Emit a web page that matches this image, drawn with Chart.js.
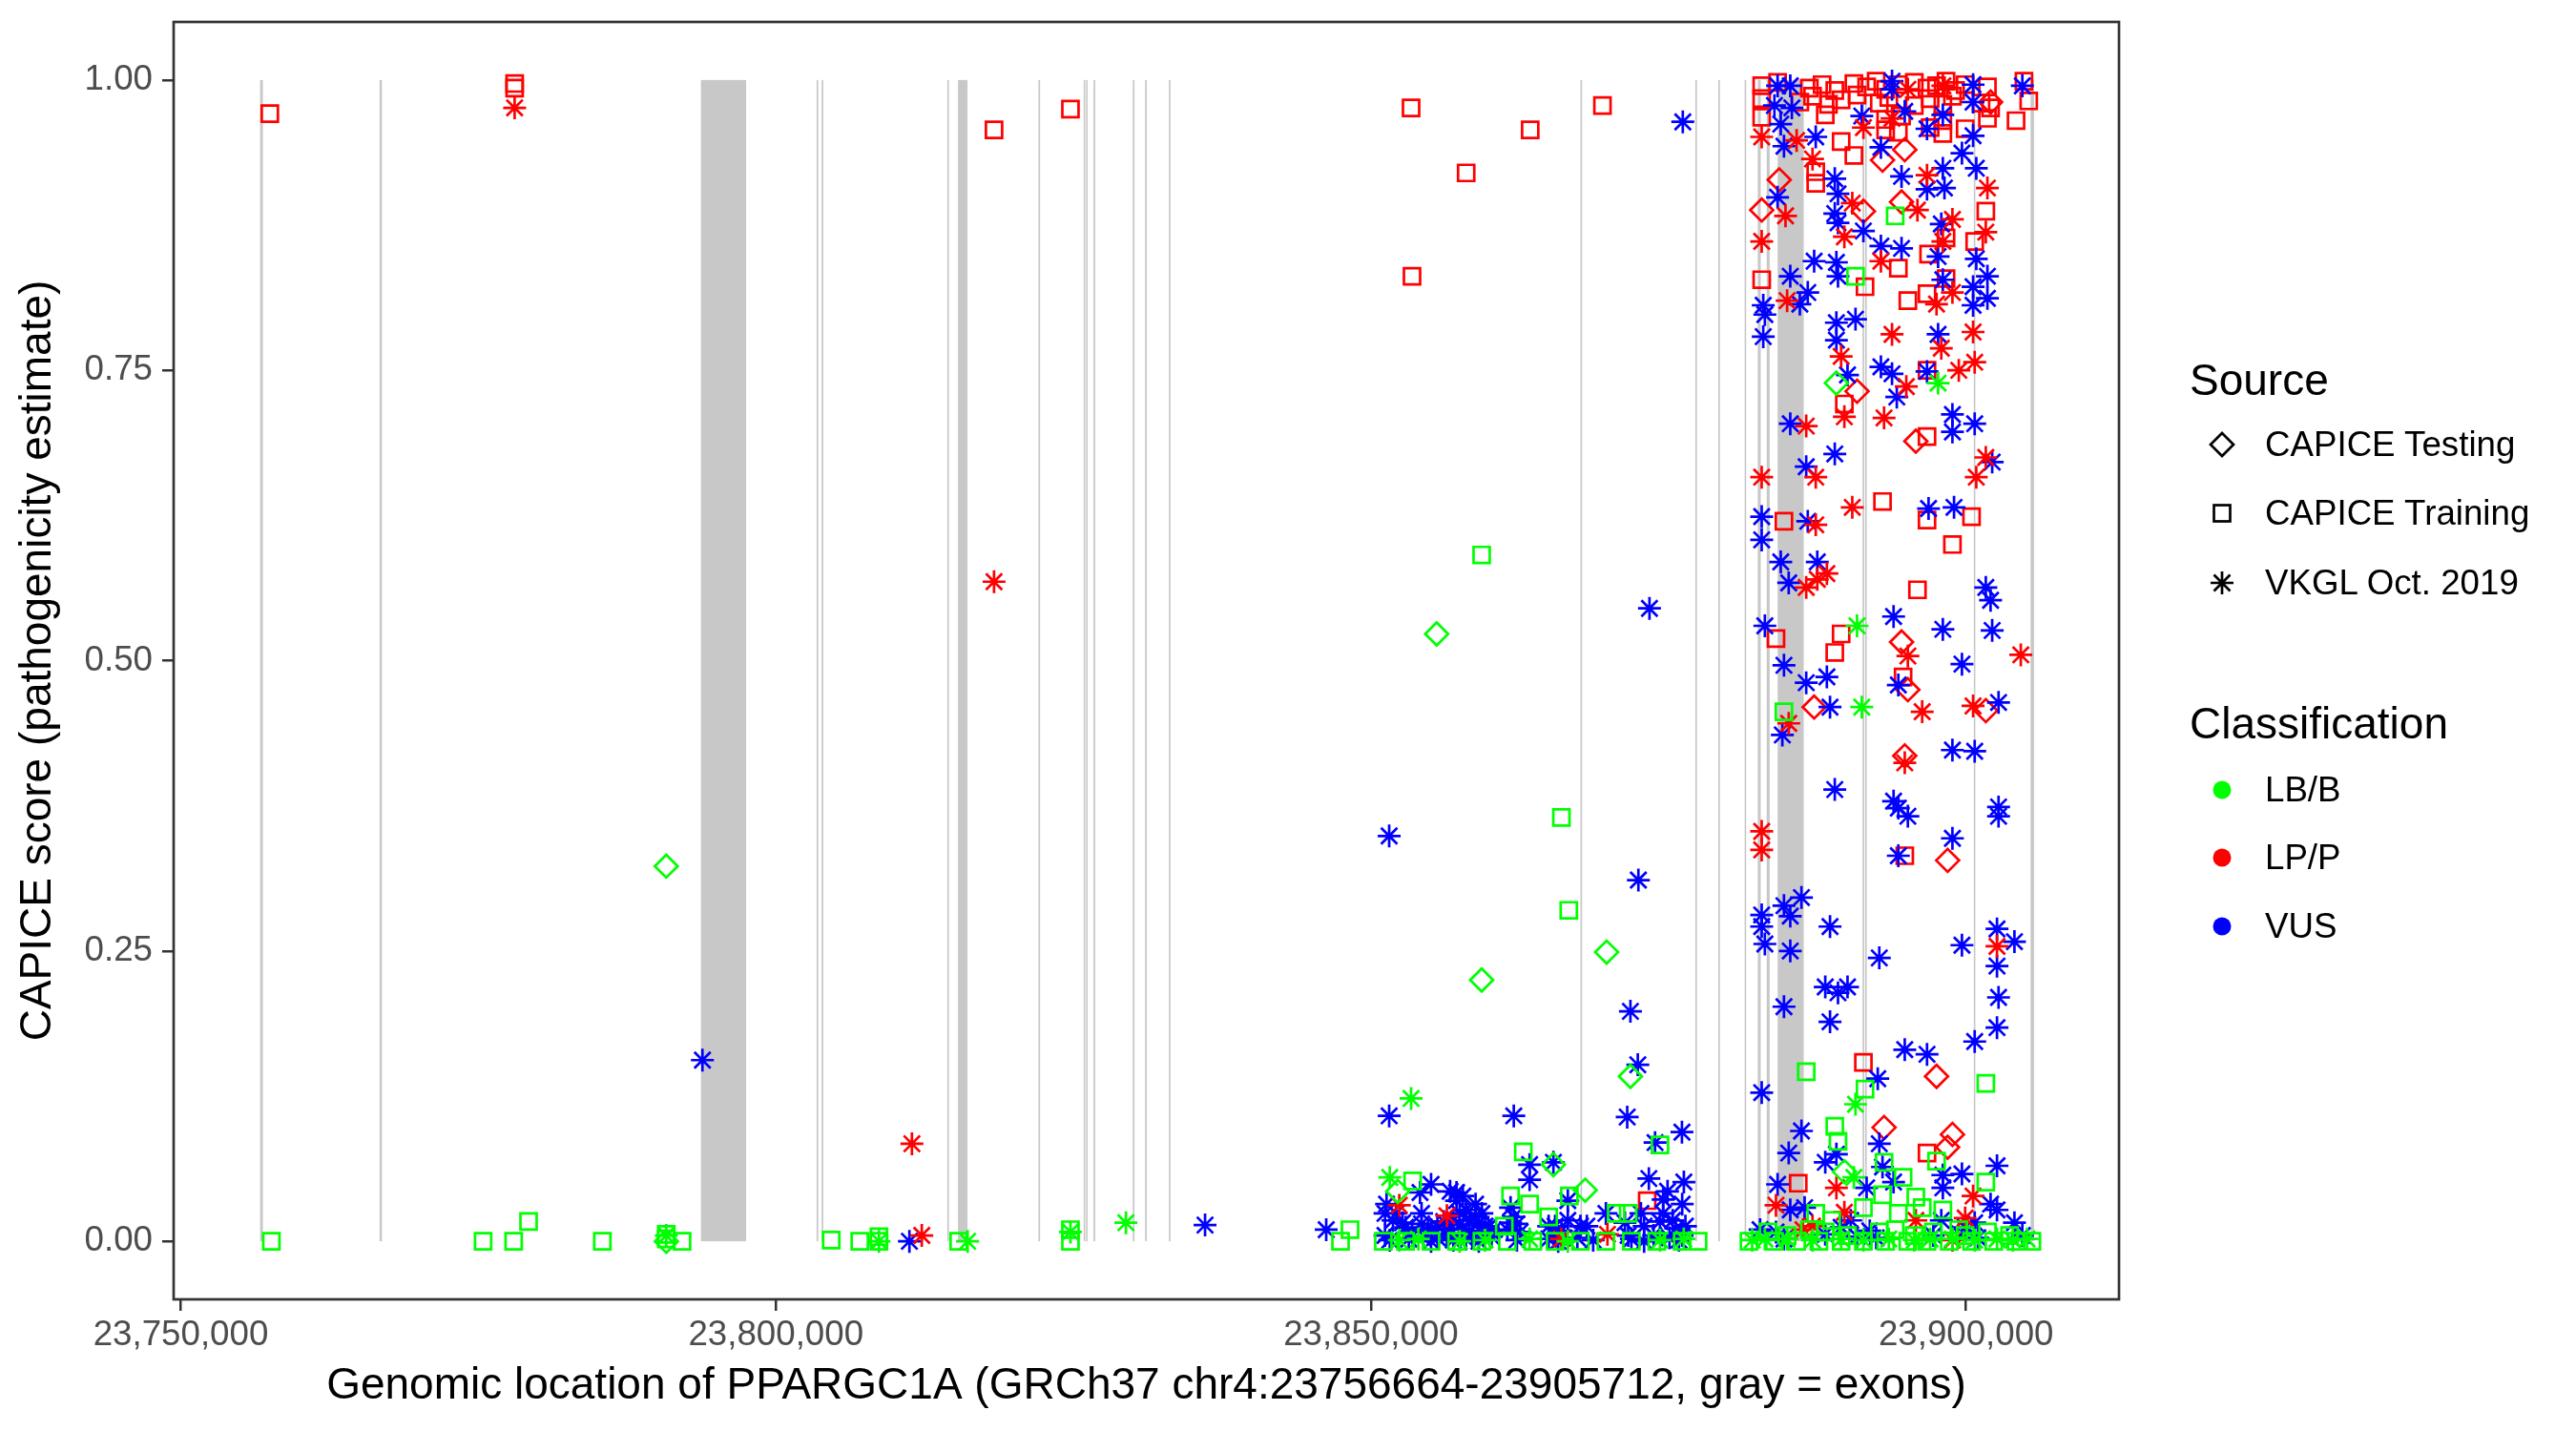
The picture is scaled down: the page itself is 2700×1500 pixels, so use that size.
<!DOCTYPE html>
<html>
<head>
<meta charset="utf-8">
<script src="https://cdn.jsdelivr.net/npm/chart.js@4.4.1/dist/chart.umd.min.js"></script>
<style>
html,body{margin:0;padding:0;background:#fff;}
#wrap{position:relative;width:2700px;height:1500px;font-family:"Liberation Sans",Arial,sans-serif;}
#c{position:absolute;left:0;top:0;}
#leg{position:absolute;left:0;top:0;width:2700px;height:1500px;pointer-events:none;}
.lt{position:absolute;left:2295px;font-size:46px;line-height:46px;color:#000;white-space:nowrap;}
.li{position:absolute;left:2374px;font-size:36.7px;line-height:36.7px;color:#000;white-space:nowrap;}
#sym{position:absolute;left:0;top:0;}
</style>
</head>
<body>
<div id="wrap">
<canvas id="c" width="2700" height="1500"></canvas>
<div id="leg"><svg id="sym" width="2700" height="1500"></svg></div>
</div>
<script>
// ---------- data ----------
const xTicks = [23750000, 23800000, 23850000, 23900000];
const yTicks = [0, 0.25, 0.5, 0.75, 1];
const xMin = 23749400, xMax = 23912850;
const yMin = -0.05, yMax = 1.05;

const exonStarts = [23756664,23766700,23793700,23803420,23803840,23814400,23815300,23822060,23825860,23826060,23826690,23829990,23831020,23833020,23867600,23877250,23879180,23881400,23882500,23883250,23884170,23891300,23891520,23900650,23905420];
const exonEnds   = [23756900,23766900,23797500,23803560,23803980,23814540,23816100,23822200,23825990,23826190,23826830,23830130,23831160,23833160,23867740,23877390,23879320,23881520,23882750,23883500,23886360,23891440,23891660,23900780,23905712];

const sourceLabels = ['CAPICE Testing', 'CAPICE Training', 'VKGL Oct. 2019'];
const classLabels = ['LB/B', 'LP/P', 'VUS'];

// CAPICE Training, LP/P
const trainingLPP = [
[23757480,0.971],[23778050,0.997],[23778050,0.993],[23818330,0.957],[23824750,0.975],
[23853370,0.976],[23863380,0.957],[23858000,0.920],[23869450,0.978],[23853450,0.831],[23873210,0.035],
[23882830,0.995],[23884165,0.998],[23886835,0.993],[23887905,0.996],[23888970,0.991],[23890575,0.997],[23891645,0.994],[23892445,0.999],[23893245,0.992],[23894310,0.996],[23895650,0.998],[23896720,0.993],[23897520,0.995],[23898320,0.999],[23899120,0.991],[23899925,0.996],[23901795,0.994],[23904865,0.999],
[23882830,0.984],[23886035,0.981],[23887100,0.986],[23888440,0.979],[23889505,0.983],[23890840,0.987],[23892710,0.980],[23893510,0.985],[23895650,0.978],[23896985,0.984],[23898050,0.979],[23898855,0.986],[23901260,0.980],[23902060,0.976],[23905265,0.982],
[23882830,0.968],[23888170,0.970],[23893245,0.966],[23894580,0.969],[23898050,0.965],[23901795,0.967],[23904200,0.965],
[23893245,0.957],[23894310,0.955],[23896985,0.959],[23898050,0.954],[23899925,0.958],
[23889505,0.947],[23890575,0.935],[23887370,0.921],[23887370,0.911],[23901660,0.887],[23898320,0.864],[23900725,0.861],[23896850,0.850],[23894310,0.838],[23882830,0.828],[23891510,0.822],[23896720,0.816],[23895110,0.810],[23898320,0.829],[23896720,0.750],
[23889775,0.721],[23896720,0.693],[23892980,0.637],[23896720,0.621],[23900460,0.624],[23884700,0.620],[23898855,0.600],[23895915,0.561],[23884030,0.519],[23889505,0.523],[23888970,0.507],[23894710,0.486],
[23894850,0.332],[23891375,0.154],[23896720,0.076],[23885900,0.050]
];

// CAPICE Training, LB/B
const trainingLB = [
[23757610,0.000],[23775400,0.000],[23777970,0.000],[23779220,0.017],[23785420,0.000],[23790790,0.002],[23790790,0.006],[23792120,0.000],[23804650,0.001],[23807050,0.000],[23808660,0.000],[23808660,0.004],[23815360,0.000],[23824750,0.010],[23824750,0.000],[23847440,0.000],[23848240,0.010],
[23866000,0.365],[23866620,0.285],[23859300,0.591],[23874280,0.083],[23862800,0.077],[23853500,0.052],[23861730,0.039],[23863330,0.032],[23866670,0.039],[23870600,0.024],
[23864930,0.021],[23861200,0.013],[23871610,0.024],
[23851040,0.000],[23852910,0.000],[23855050,0.000],[23857190,0.000],[23859320,0.000],[23861460,0.000],[23863600,0.000],[23865470,0.000],[23867600,0.000],[23869740,0.000],[23871880,0.000],[23874010,0.000],[23876150,0.000],[23877490,0.000],
[23894045,0.883],[23890710,0.831],[23884700,0.456],
[23886570,0.146],[23901660,0.136],[23891510,0.131],[23888970,0.099],[23889240,0.086],[23897520,0.069],[23893110,0.068],[23894710,0.055],[23901660,0.051],[23892980,0.040],[23895780,0.038],[23891375,0.029],[23896315,0.029],[23898050,0.027],[23894310,0.024],[23888705,0.018],[23887370,0.024],[23886835,0.010],[23894045,0.010],[23899390,0.010],
[23883360,0.008],[23888170,0.008],[23892710,0.008],[23897250,0.008],[23901795,0.008],
[23884965,0.005],[23890040,0.005],[23895650,0.005],[23899925,0.005],[23903660,0.005],
[23881760,0.000],[23883900,0.000],[23885765,0.000],[23887635,0.000],[23889505,0.000],[23891375,0.000],[23893245,0.000],[23895110,0.000],[23896720,0.000],[23898590,0.000],[23900460,0.000],[23902330,0.000],[23904200,0.000],[23905530,0.000]
];

// CAPICE Testing, LP/P
const testingLPP = [
[23894850,0.940],[23892980,0.931],[23884300,0.914],[23882830,0.888],[23894580,0.895],[23891375,0.887],[23902060,0.981],
[23890840,0.732],[23895780,0.689],[23894580,0.516],[23895110,0.475],
[23887235,0.460],[23901660,0.457],[23894850,0.418],[23898450,0.328],
[23897520,0.142],[23893110,0.098],[23898855,0.092],[23898450,0.081]
];

// CAPICE Testing, LB/B
const testingLB = [
[23790790,0.323],[23790800,0.000],[23855520,0.523],[23859300,0.225],[23869800,0.249],[23871800,0.142],[23852250,0.043],[23868000,0.044],[23865330,0.066],[23889105,0.739],[23889775,0.060]
];

// VKGL Oct. 2019, LP/P
const vkglLPP = [
[23778050,0.976],[23818330,0.568],[23811430,0.084],[23812260,0.005],
[23852380,0.031],[23856380,0.022],[23869870,0.006],[23865990,0.002],
[23882830,0.951],[23885765,0.948],[23887100,0.932],[23896720,0.918],[23884830,0.883],[23890440,0.894],[23895915,0.888],[23901795,0.907],[23898855,0.880],[23901660,0.869],[23882830,0.861],[23889775,0.865],[23898050,0.861],[23892845,0.844],[23884965,0.810],[23898855,0.817],[23897520,0.807],[23893780,0.781],[23900590,0.783],[23897920,0.769],[23889505,0.762],[23900725,0.757],[23899390,0.750],[23893780,0.967],[23891375,0.959],[23895110,0.992],[23898050,0.995],
[23889775,0.710],[23893110,0.709],[23894980,0.736],[23886570,0.702],[23887370,0.658],[23882830,0.658],[23901660,0.675],[23900860,0.658],[23890440,0.632],[23887370,0.617],[23888305,0.575],[23886570,0.563],[23887500,0.570],[23895110,0.504],[23904600,0.505],
[23885100,0.446],[23896315,0.456],[23900590,0.461],[23894850,0.412],[23882830,0.353],[23882830,0.337],[23902600,0.254],
[23889105,0.046],[23900590,0.039],[23884030,0.031],[23889775,0.025],[23895780,0.018],[23899925,0.020],[23887100,0.013],[23886300,0.010],[23898855,0.001]
];

// VKGL Oct. 2019, LB/B
const vkglLB = [
[23790790,0.005],[23808660,0.000],[23816110,0.000],[23824750,0.008],[23829410,0.016],[23853370,0.123],[23851580,0.055],[23897650,0.739],[23890840,0.530],[23891240,0.460],[23890710,0.118],[23890575,0.055],
[23883095,0.002],[23884965,0.002],[23889505,0.002],[23893510,0.002],[23896985,0.002],[23898855,0.002],[23902600,0.002],[23905130,0.002],
[23882030,0.001],[23887100,0.001],[23891375,0.001],[23895650,0.001],[23900725,0.001],[23903930,0.001],
[23852380,0.001],[23853980,0.002],[23857450,0.000],[23859590,0.001],[23863330,0.002],[23866540,0.000],[23874280,0.001],[23876280,0.002]
];

// VKGL Oct. 2019, VUS
const vkglVUS = [
[23793830,0.156],[23811220,0.000],[23836060,0.014],[23846240,0.010],[23851530,0.349],[23876200,0.964],[23873400,0.545],[23872470,0.311],[23871800,0.198],[23872420,0.152],[23851530,0.108],[23862000,0.108],[23871530,0.107],[23873870,0.085],[23876130,0.094],
[23863330,0.066],[23863330,0.053],[23865330,0.068],[23855050,0.049],[23854120,0.042],[23857190,0.042],[23857720,0.039],[23858790,0.032],[23851310,0.032],[23851180,0.024],[23851180,0.005],[23861730,0.029],[23866540,0.035],[23873350,0.054],[23876290,0.051],[23874920,0.043],[23874550,0.036],[23876150,0.032],[23872680,0.024],[23869740,0.024],[23868140,0.013],[23871610,0.005],
[23851850,0.018],[23852910,0.012],[23854250,0.015],[23855050,0.010],[23856120,0.017],[23856650,0.011],[23857450,0.014],[23858260,0.009],[23859060,0.016],[23859860,0.012],[23861460,0.010],[23862260,0.015],[23864930,0.013],[23866000,0.009],[23874280,0.017],[23875620,0.011],
[23851580,0.001],[23853180,0.002],[23855050,0.000],[23855580,0.003],[23856920,0.001],[23857990,0.002],[23859060,0.000],[23860130,0.004],[23862260,0.001],[23864930,0.002],[23865730,0.000],[23867340,0.003],[23868670,0.001],[23871880,0.002],[23872950,0.000],[23875080,0.003],[23875880,0.001],
[23856650,0.043],[23857190,0.035],[23857990,0.027],[23858790,0.021],[23859590,0.013],[23860130,0.008],[23856920,0.018],[23857720,0.010],[23858520,0.005],[23856380,0.005],[23857450,0.024],[23858260,0.018],[23859320,0.024],[23855580,0.013],[23854780,0.008],[23852650,0.016],[23853450,0.008],[23852110,0.024],[23854250,0.024],
[23861730,0.016],[23862530,0.008],[23861990,0.021],[23865470,0.013],[23866540,0.018],[23867600,0.013],[23865470,0.005],[23871340,0.016],[23872950,0.013],[23874550,0.024],[23875350,0.018],[23876420,0.013],[23873750,0.005],[23876150,0.005],
[23884165,0.995],[23885230,0.995],[23883900,0.978],[23885365,0.976],[23884430,0.962],[23884700,0.943],[23887370,0.951],[23891240,0.969],[23893780,0.999],[23893780,0.992],[23894850,0.973],[23896720,0.958],[23898050,0.970],[23900590,0.996],[23900590,0.981],[23900590,0.952],[23904730,0.995],[23892845,0.942],[23899655,0.937],[23898050,0.924],[23900860,0.924],[23894580,0.917],[23898185,0.907],[23896720,0.906],[23884165,0.899],[23888970,0.915],[23889240,0.902],[23888970,0.885],[23889240,0.877],[23891375,0.870],[23892845,0.857],[23894580,0.855],[23897920,0.876],[23897650,0.848],[23887235,0.844],[23889105,0.843],[23889240,0.831],[23885230,0.831],[23886700,0.817],[23886035,0.807],[23882960,0.806],[23883095,0.798],[23882960,0.779],[23898050,0.828],[23900590,0.822],[23901795,0.831],[23901795,0.812],[23900590,0.806],[23900860,0.846],[23889105,0.791],[23890710,0.794],[23889105,0.776],[23897650,0.781],[23892845,0.753],[23893780,0.747],[23896720,0.749],[23890040,0.746],
[23894180,0.727],[23885230,0.704],[23898855,0.712],[23898855,0.697],[23900725,0.704],[23888970,0.678],[23886570,0.667],[23902195,0.671],[23896850,0.631],[23898990,0.632],[23882830,0.624],[23882830,0.604],[23886700,0.620],[23884430,0.585],[23887500,0.585],[23885100,0.567],[23901660,0.563],[23902060,0.552],[23883095,0.530],[23893910,0.538],[23898050,0.527],[23902195,0.526],[23899655,0.497],[23884700,0.496],[23886570,0.481],[23888305,0.486],[23894310,0.479],
[23884565,0.436],[23888570,0.460],[23902730,0.464],[23898855,0.423],[23900725,0.422],[23888970,0.389],[23893910,0.379],[23894310,0.373],[23895110,0.366],[23902730,0.374],[23902730,0.366],[23898855,0.347],[23894310,0.332],[23886170,0.296],[23884700,0.289],[23882830,0.281],[23885230,0.280],[23882830,0.271],[23888570,0.271],[23883095,0.256],[23885230,0.250],[23892710,0.244],[23899655,0.255],[23902600,0.269],[23904065,0.258],[23902600,0.237],[23888170,0.219],[23889240,0.214],[23890040,0.219],[23902730,0.210],[23884700,0.202],
[23888570,0.189],[23902600,0.184],[23900725,0.172],[23894850,0.165],[23896720,0.161],[23892580,0.140],[23882830,0.128],[23886170,0.095],[23892710,0.084],[23885100,0.076],[23889105,0.075],[23888170,0.068],[23902600,0.065],[23892980,0.064],[23899655,0.058],[23898050,0.057],[23893910,0.051],[23884165,0.049],[23891645,0.046],[23898050,0.046],[23902060,0.032],[23886435,0.029],[23885230,0.027],[23902600,0.027],[23897920,0.018],[23900725,0.016],[23904065,0.016],[23890310,0.018],[23882695,0.010],[23892445,0.003],[23897250,0.005],[23900990,0.003],[23904730,0.005],[23884700,0.002],
[23884030,0.008],[23888170,0.006],[23889505,0.012],[23890840,0.004],[23891910,0.009],[23899390,0.007],[23899925,0.012]
];

// ---------- styling ----------
const FONT = "'Liberation Sans', Arial, sans-serif";
const classColors = {'LB/B': '#00FF00', 'LP/P': '#FF0000', 'VUS': '#0000FF'};
const sourceShapes = {'CAPICE Testing': 'rectRot', 'CAPICE Training': 'rect', 'VKGL Oct. 2019': 'star'};
const R = 12, BW = 2.7;

function mk(source, cls, arr) {
  return {
    label: source + ' / ' + cls,
    data: arr.map(p => ({x: p[0], y: p[1]})),
    pointStyle: sourceShapes[source],
    borderColor: classColors[cls],
    backgroundColor: 'rgba(0,0,0,0)',
    pointBackgroundColor: 'rgba(0,0,0,0)',
    pointRadius: R, pointHoverRadius: R,
    pointBorderWidth: BW, pointHoverBorderWidth: BW,
    showLine: false
  };
}

// first dataset is drawn on top
const datasets = [
  mk('VKGL Oct. 2019', 'LB/B', vkglLB),
  mk('CAPICE Testing', 'LB/B', testingLB),
  mk('CAPICE Training', 'LB/B', trainingLB),
  mk('VKGL Oct. 2019', 'LP/P', vkglLPP),
  mk('VKGL Oct. 2019', 'VUS', vkglVUS),
  mk('CAPICE Testing', 'LP/P', testingLPP),
  mk('CAPICE Training', 'LP/P', trainingLPP)
];

const exonPlugin = {
  id: 'exons',
  beforeDatasetsDraw(chart) {
    const {ctx, chartArea: a, scales: {x, y}} = chart;
    ctx.save();
    ctx.beginPath(); ctx.rect(a.left, a.top, a.width, a.height); ctx.clip();
    ctx.fillStyle = '#C8C8C8';
    const yT = y.getPixelForValue(1), yB = y.getPixelForValue(0);
    for (let i = 0; i < exonStarts.length; i++) {
      let x1 = x.getPixelForValue(exonStarts[i]), x2 = x.getPixelForValue(exonEnds[i]);
      if (x2 - x1 < 1.6) { const m = (x1 + x2) / 2; x1 = m - 0.8; x2 = m + 0.8; }
      ctx.fillRect(x1, yT, x2 - x1, yB - yT);
    }
    ctx.restore();
  }
};
const boxPlugin = {
  id: 'box',
  afterDraw(chart) {
    const {ctx, chartArea: a} = chart;
    ctx.save();
    ctx.strokeStyle = '#333333'; ctx.lineWidth = 2.7;
    ctx.strokeRect(a.left, a.top, a.width, a.height);
    ctx.restore();
  }
};

new Chart(document.getElementById('c'), {
  type: 'scatter',
  data: {datasets},
  plugins: [exonPlugin, boxPlugin],
  options: {
    responsive: false, animation: false, devicePixelRatio: 1, events: [],
    layout: {padding: {left: 0, top: 23, right: 479, bottom: 0}},
    plugins: {legend: {display: false}, tooltip: {enabled: false}},
    scales: {
      x: {
        type: 'linear', min: xMin, max: xMax,
        afterBuildTicks: s => { s.ticks = xTicks.map(v => ({value: v})); },
        afterFit: s => { s.height = 138; s.paddingLeft = 0; s.paddingRight = 0; },
        ticks: {autoSkip: false, maxRotation: 0, minRotation: 0, padding: 4, color: '#4D4D4D',
                font: {family: FONT, size: 36.7}, callback: v => Number(v).toLocaleString('en-US')},
        grid: {display: true, drawOnChartArea: false, drawTicks: true, tickLength: 12, color: '#333333', lineWidth: 2.5},
        border: {display: false},
        title: {display: true, text: 'Genomic location of PPARGC1A (GRCh37 chr4:23756664-23905712, gray = exons)',
                color: '#000', font: {family: FONT, size: 46}, padding: {top: 0, bottom: 19}}
      },
      y: {
        type: 'linear', min: yMin, max: yMax,
        afterBuildTicks: s => { s.ticks = yTicks.map(v => ({value: v})); },
        afterFit: s => { s.width = 182; s.paddingTop = 0; s.paddingBottom = 0; },
        ticks: {autoSkip: false, padding: 10, color: '#4D4D4D',
                font: {family: FONT, size: 36.7}, callback: v => Number(v).toFixed(2)},
        grid: {display: true, drawOnChartArea: false, drawTicks: true, tickLength: 12, color: '#333333', lineWidth: 2.5},
        border: {display: false},
        title: {display: true, text: 'CAPICE score (pathogenicity estimate)',
                color: '#000', font: {family: FONT, size: 46}, padding: {top: 13, bottom: 0}}
      }
    }
  }
});

// ---------- legend (HTML text + SVG keys) ----------
(function () {
  const leg = document.getElementById('leg');
  const svg = document.getElementById('sym');
  const NS = 'http://www.w3.org/2000/svg';
  function txt(cls, top, s) { const d = document.createElement('div'); d.className = cls; d.style.top = top + 'px'; d.textContent = s; leg.appendChild(d); }
  function el(tag, attrs) { const e = document.createElementNS(NS, tag); for (const k in attrs) e.setAttribute(k, attrs[k]); svg.appendChild(e); return e; }
  const kx = 2329;
  txt('lt', 375, 'Source');
  const srcY = [466, 538, 611];
  sourceLabels.forEach((s, i) => {
    const cy = srcY[i], shape = sourceShapes[s];
    const st = {fill: 'none', stroke: '#000', 'stroke-width': BW};
    if (shape === 'rectRot') {
      el('polygon', Object.assign({points: `${kx-R},${cy} ${kx},${cy-R} ${kx+R},${cy} ${kx},${cy+R}`}, st));
    } else if (shape === 'rect') {
      const h = R * Math.SQRT1_2;
      el('rect', Object.assign({x: kx-h, y: cy-h, width: 2*h, height: 2*h}, st));
    } else {
      const d = R * Math.SQRT1_2;
      el('path', Object.assign({d: `M${kx} ${cy-R}V${cy+R}M${kx-R} ${cy}H${kx+R}M${kx-d} ${cy-d}L${kx+d} ${cy+d}M${kx-d} ${cy+d}L${kx+d} ${cy-d}`}, st));
    }
    txt('li', cy - 18, s);
  });
  txt('lt', 735, 'Classification');
  const clsY = [828, 899, 971];
  classLabels.forEach((c, i) => {
    el('circle', {cx: kx, cy: clsY[i], r: 9.5, fill: classColors[c]});
    txt('li', clsY[i] - 18, c);
  });
})();
</script>
</body>
</html>
